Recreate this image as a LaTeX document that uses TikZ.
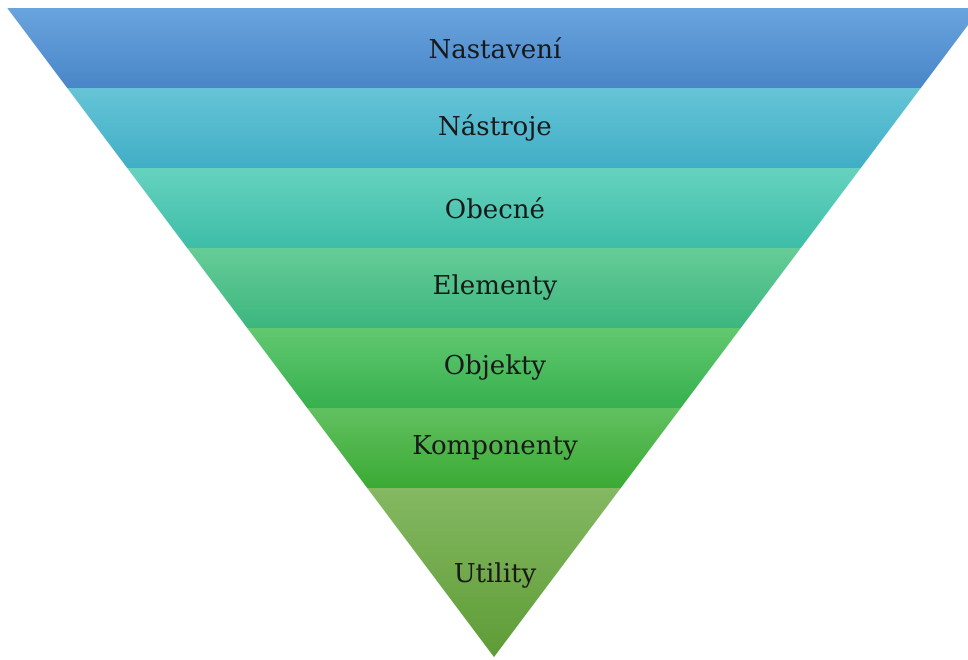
\documentclass[tikz,border=0pt]{standalone}
\usepackage{fontspec}
\setmainfont{DejaVu Serif}
\usepackage{tikz}

\definecolor{bandAtop}{HTML}{6AA4DE}
\definecolor{bandAbot}{HTML}{4886C8}
\definecolor{bandBtop}{HTML}{66C4D6}
\definecolor{bandBbot}{HTML}{40AEC6}
\definecolor{bandCtop}{HTML}{66D2BE}
\definecolor{bandCbot}{HTML}{3DBDA8}
\definecolor{bandDtop}{HTML}{66CC98}
\definecolor{bandDbot}{HTML}{3CB67E}
\definecolor{bandEtop}{HTML}{62C870}
\definecolor{bandEbot}{HTML}{36B04E}
\definecolor{bandFtop}{HTML}{62C060}
\definecolor{bandFbot}{HTML}{3AAA34}
\definecolor{bandGtop}{HTML}{84B862}
\definecolor{bandGbot}{HTML}{5E9C36}

\begin{document}
\begin{tikzpicture}[
    x=0.025cm, y=-0.025cm,
    level/.style={font=\fontsize{18.5}{22}\selectfont, text=black!90, inner sep=0pt},
    band/.style={draw=none}
]
\useasboundingbox (0,0) rectangle (968,659);
\clip (0,0) rectangle (968,659);

% funnel bands, top to bottom
\shade[band, top color=bandAtop, bottom color=bandAbot] (7.25,8) -- (980.75,8) -- (920.75,88) -- (67.25,88) -- cycle;
\shade[band, top color=bandBtop, bottom color=bandBbot] (67.25,88) -- (920.75,88) -- (860.75,168) -- (127.25,168) -- cycle;
\shade[band, top color=bandCtop, bottom color=bandCbot] (127.25,168) -- (860.75,168) -- (800.75,248) -- (187.25,248) -- cycle;
\shade[band, top color=bandDtop, bottom color=bandDbot] (187.25,248) -- (800.75,248) -- (740.75,328) -- (247.25,328) -- cycle;
\shade[band, top color=bandEtop, bottom color=bandEbot] (247.25,328) -- (740.75,328) -- (680.75,408) -- (307.25,408) -- cycle;
\shade[band, top color=bandFtop, bottom color=bandFbot] (307.25,408) -- (680.75,408) -- (620.75,488) -- (367.25,488) -- cycle;
\shade[band, top color=bandGtop, bottom color=bandGbot] (367.25,488) -- (620.75,488) -- (494,657) -- cycle;

% labels
\node[level] (nast) at (495,48) {Nastavení};
\node[level] (nastr) at (495,128) {Nástroje};
\node[level] (obec) at (495,208) {Obecné};
\node[level] (elem) at (495,288) {Elementy};
\node[level] (obj) at (495,368) {Objekty};
\node[level] (komp) at (495,448) {Komponenty};
\node[level] (util) at (495,575) {Utility};
\end{tikzpicture}
\end{document}
